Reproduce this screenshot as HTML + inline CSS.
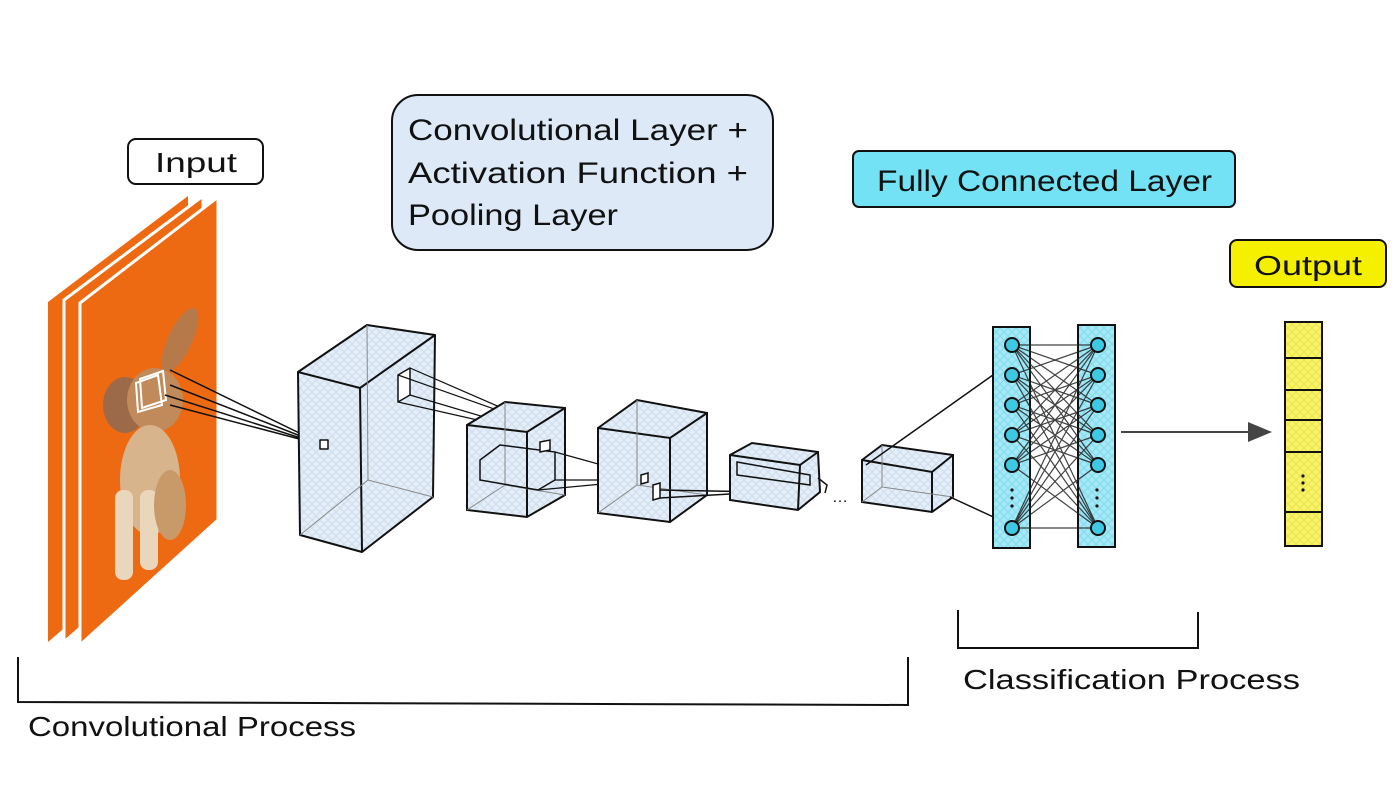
<!DOCTYPE html>
<html><head><meta charset="utf-8"><style>
html,body{margin:0;padding:0;background:#fff;}
svg{display:block;}
text{font-family:"Liberation Sans",sans-serif;fill:#111;}
</style></head><body>
<svg width="1400" height="788" viewBox="0 0 1400 788" xmlns="http://www.w3.org/2000/svg">
<defs>
<pattern id="hb" width="8" height="8" patternUnits="userSpaceOnUse"><rect width="8" height="8" fill="#e4eef9"/><path d="M0 8L8 0M0 0L8 8" stroke="#cfdcec" stroke-width="1"/></pattern>
<pattern id="hc" width="8" height="8" patternUnits="userSpaceOnUse"><rect width="8" height="8" fill="#a6e8f5"/><path d="M0 8L8 0M0 0L8 8" stroke="#7fdcef" stroke-width="1"/></pattern>
<pattern id="hy" width="8" height="8" patternUnits="userSpaceOnUse"><rect width="8" height="8" fill="#f7f36a"/><path d="M0 8L8 0M0 0L8 8" stroke="#ece44a" stroke-width="1"/></pattern>
</defs>

<!-- label boxes -->
<rect x="128" y="139" width="135" height="45" rx="8" fill="#fff" stroke="#111" stroke-width="2"/>
<text x="155" y="172" font-size="28" textLength="82" lengthAdjust="spacingAndGlyphs">Input</text>
<rect x="392" y="95" width="381" height="155" rx="26" fill="#dde9f7" stroke="#111" stroke-width="2"/>
<text x="408" y="140" font-size="30" textLength="340" lengthAdjust="spacingAndGlyphs">Convolutional Layer +</text>
<text x="408" y="183" font-size="30" textLength="340" lengthAdjust="spacingAndGlyphs">Activation Function +</text>
<text x="408" y="225" font-size="30" textLength="210" lengthAdjust="spacingAndGlyphs">Pooling Layer</text>
<rect x="853" y="151" width="382" height="56" rx="6" fill="#72e2f4" stroke="#111" stroke-width="2"/>
<text x="877" y="191" font-size="30" textLength="335" lengthAdjust="spacingAndGlyphs">Fully Connected Layer</text>
<rect x="1230" y="240" width="156" height="47" rx="7" fill="#f5f000" stroke="#111" stroke-width="2"/>
<text x="1254" y="275" font-size="28" textLength="108" lengthAdjust="spacingAndGlyphs">Output</text>

<!-- orange sheets -->
<polygon points="48,302 188,196 190,520 48,642" fill="#ee6a12"/>
<polygon points="64,300 203,196 205,520 64,642" fill="#ee6a12" stroke="#fff" stroke-width="3"/>
<polygon points="80,303 218,197 218,520 80,645" fill="#ee6a12" stroke="#fff" stroke-width="3"/>
<!-- dog -->
<ellipse cx="180" cy="340" rx="12" ry="35" fill="#b5794a" transform="rotate(25 180 340)"/>
<ellipse cx="125" cy="405" rx="22" ry="28" fill="#9c6a48"/>
<ellipse cx="155" cy="400" rx="28" ry="32" fill="#c08a5a"/>
<ellipse cx="150" cy="480" rx="30" ry="55" fill="#d8b48c"/>
<rect x="115" y="490" width="18" height="90" rx="8" fill="#ead6bb"/>
<rect x="140" y="490" width="18" height="80" rx="8" fill="#ead6bb"/>
<ellipse cx="170" cy="505" rx="16" ry="35" fill="#c89a6a"/>
<g fill="none" stroke="#fff" stroke-width="2"><path d="M136 383L158 375L162 405L138 412Z"/><path d="M140 379L163 371L166 400L142 408Z"/></g>
<g stroke="#111" stroke-width="1.5" fill="none">
<path d="M170 370L326 446M170 385L326 446M165 395L326 446M170 405L326 446"/>
</g>

<!-- box1 -->
<g stroke="#111" stroke-width="2" stroke-linejoin="round">
<polygon points="298,372 367,325 435,335 433,497 362,552 300,535" fill="url(#hb)"/>
<path d="M298,372L360,388L435,335M360,388L362,552" fill="none"/>
<path d="M367,325L368,480L433,497M368,480L300,535" fill="none" stroke="#888" stroke-width="1"/>
<rect x="320" y="440" width="8" height="9" fill="#fff" stroke-width="1.5"/>
<path d="M398,375L410,368L410,395L398,402Z" fill="#fff" stroke-width="1.5"/>
<path d="M410,368L548,428M410,395L548,436M398,375L548,428M398,402L548,436" fill="none" stroke-width="1.2"/>
</g>
<!-- box2 -->
<g stroke="#111" stroke-width="2">
<polygon points="467,425 505,402 565,408 565,495 527,517 467,510" fill="url(#hb)"/>
<path d="M467,425L527,432L565,408M527,432L527,517" fill="none"/>
<path d="M505,402L505,485L565,495M505,485L467,510" fill="none" stroke="#888" stroke-width="1"/>
<path d="M480,460L500,445L555,452L555,480L538,490L480,480Z" fill="none" stroke-width="1.5"/>
<path d="M540,442L550,440L550,450L540,452Z" fill="#fff" stroke-width="1.5"/>
<path d="M555,452L645,477M555,480L645,480M538,490L645,480" fill="none" stroke-width="1.2"/>
</g>
<!-- box3 -->
<g stroke="#111" stroke-width="2">
<polygon points="598,428 637,400 707,413 707,495 670,522 598,513" fill="url(#hb)"/>
<path d="M598,428L670,438L707,413M670,438L670,522" fill="none"/>
<path d="M637,400L637,485L707,495M637,485L598,513" fill="none" stroke="#888" stroke-width="1"/>
<path d="M641,475L648,473L648,482L641,484Z" fill="#fff" stroke-width="1.5"/>
<path d="M653,485L660,483L660,498L653,500Z" fill="#fff" stroke-width="1.5"/>
<path d="M660,490L765,492M660,498L765,492" fill="none" stroke-width="1.5"/>
</g>
<!-- box4 -->
<g stroke="#111" stroke-width="2">
<polygon points="730,455 752,443 818,452 820,492 798,510 730,500" fill="url(#hb)"/>
<path d="M730,455L800,465L818,452M800,465L798,510" fill="none"/>
<path d="M737,462L810,475L810,485L737,475Z" fill="none" stroke-width="1.5"/>
<path d="M818,478L827,485L825,493" fill="none" stroke-width="1.5"/>
</g>
<text x="832" y="502" font-size="16">…</text>
<!-- box5 -->
<g stroke="#111" stroke-width="2">
<polygon points="862,460 882,445 953,455 953,497 932,512 862,502" fill="url(#hb)"/>
<path d="M862,460L932,472L953,455M932,472L932,512" fill="none"/>
<path d="M882,445L882,487L953,497M882,487L862,502" fill="none" stroke="#888" stroke-width="1"/>
<path d="M866,465L1000,370M950,497L1000,520" fill="none" stroke-width="1.5"/>
</g>

<!-- FC layer -->
<g stroke="#111" stroke-width="2">
<rect x="993" y="327" width="37" height="221" fill="url(#hc)"/>
<rect x="1078" y="325" width="37" height="222" fill="url(#hc)"/>
</g>
<g stroke="#222" stroke-width="1.2" opacity="0.85">
<path d="M1012 345L1098 345M1012 345L1098 375M1012 345L1098 405M1012 345L1098 435M1012 345L1098 465M1012 345L1098 528
M1012 375L1098 345M1012 375L1098 405M1012 375L1098 435M1012 375L1098 528M1012 375L1098 465
M1012 405L1098 345M1012 405L1098 375M1012 405L1098 435M1012 405L1098 465M1012 405L1098 528
M1012 435L1098 345M1012 435L1098 375M1012 435L1098 405M1012 435L1098 465M1012 435L1098 528
M1012 465L1098 345M1012 465L1098 375M1012 465L1098 405M1012 465L1098 435M1012 465L1098 528
M1012 528L1098 528M1012 528L1098 345M1012 528L1098 375M1012 528L1098 405M1012 528L1098 435M1012 528L1098 465"/>
</g>
<g fill="#3ec9e3" stroke="#111" stroke-width="2">
<circle cx="1012" cy="345" r="7"/><circle cx="1012" cy="375" r="7"/><circle cx="1012" cy="405" r="7"/><circle cx="1012" cy="435" r="7"/><circle cx="1012" cy="465" r="7"/><circle cx="1012" cy="528" r="7"/>
<circle cx="1098" cy="345" r="7"/><circle cx="1098" cy="375" r="7"/><circle cx="1098" cy="405" r="7"/><circle cx="1098" cy="435" r="7"/><circle cx="1098" cy="465" r="7"/><circle cx="1098" cy="528" r="7"/>
</g>
<g fill="#111"><circle cx="1012" cy="490" r="1.6"/><circle cx="1012" cy="498" r="1.6"/><circle cx="1012" cy="506" r="1.6"/>
<circle cx="1097" cy="490" r="1.6"/><circle cx="1097" cy="498" r="1.6"/><circle cx="1097" cy="506" r="1.6"/></g>

<!-- arrow -->
<path d="M1121 432L1250 432" stroke="#444" stroke-width="2"/>
<polygon points="1248,422 1272,432 1248,442" fill="#444"/>

<!-- output column -->
<rect x="1285" y="322" width="37" height="224" fill="url(#hy)" stroke="#111" stroke-width="2"/>
<path d="M1285 358H1322M1285 390H1322M1285 420H1322M1285 452H1322M1285 512H1322" stroke="#111" stroke-width="2"/>
<g fill="#111"><circle cx="1303" cy="476" r="1.6"/><circle cx="1303" cy="483" r="1.6"/><circle cx="1303" cy="490" r="1.6"/></g>

<!-- brackets -->
<path d="M18 657L18 702L908 705L908 657" fill="none" stroke="#111" stroke-width="2"/>
<text x="28" y="736" font-size="28" textLength="328" lengthAdjust="spacingAndGlyphs">Convolutional Process</text>
<path d="M958 610L958 648L1198 648L1198 612" fill="none" stroke="#111" stroke-width="2"/>
<text x="963" y="689" font-size="28" textLength="337" lengthAdjust="spacingAndGlyphs">Classification Process</text>
</svg>
</body></html>
